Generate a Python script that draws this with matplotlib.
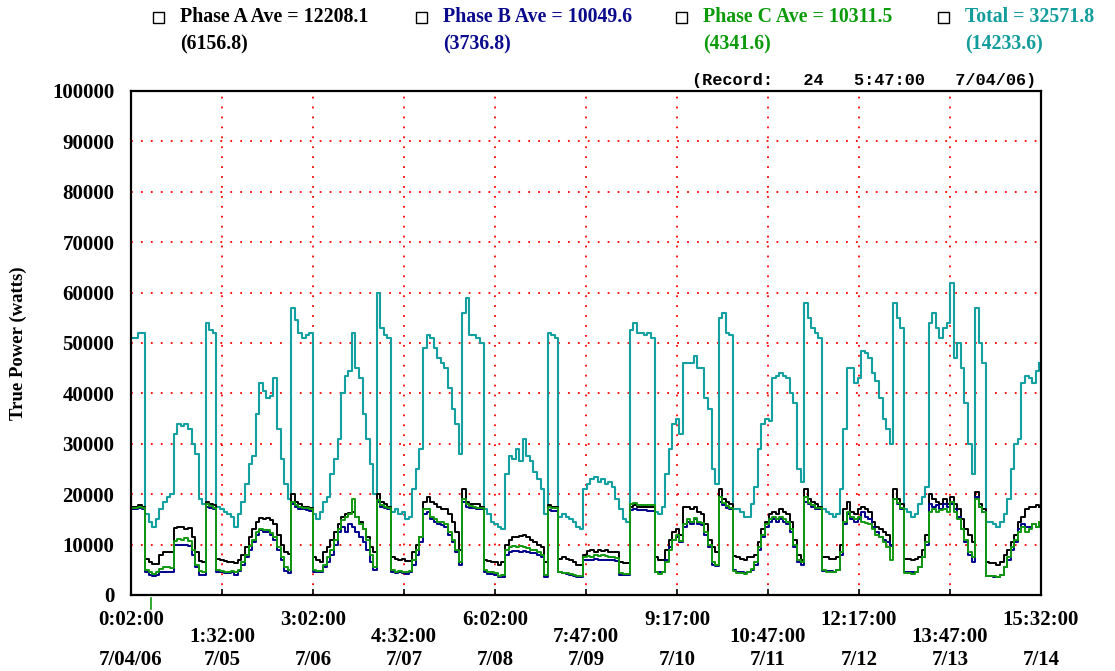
import numpy as np
import matplotlib
matplotlib.use("Agg")
import matplotlib.pyplot as plt
from matplotlib.patches import Rectangle
import matplotlib.transforms as mtransforms

# hourly readings (kW), starting 7/04/06 0:02
phase_a_kw = [
    17.5, 17.5, 17.8, 17.5, 7.2, 6.5, 6.2, 6.2, 8, 8.5,
    8.6, 8.6, 13.3, 13.5, 13.5, 13, 13.2, 11.5, 8.5, 6.8,
    6.5, 18.5, 18, 17.8, 7.2, 7, 6.8, 6.5, 6.5, 6.3,
    7, 8, 9.5, 11.5, 13, 14.5, 15.2, 15, 15.2, 14.8,
    14, 12, 10, 8.5, 8.2, 20, 18.5, 18, 17.5, 17.5, 17.3,
    7.5, 7, 6.5, 8.5, 9.5, 11, 12.5, 14, 15.5, 16,
    16.2, 16.5, 15.5, 14.5, 13, 11.5, 9.5, 8.5, 20, 18.5,
    18, 17.5, 7.5, 7.2, 7, 7.2, 6.8, 6.8, 8.5, 10,
    11.5, 18.5, 19.5, 18.5, 18, 17.5, 17, 17, 16, 14.5,
    12.5, 9, 21, 18.5, 18, 18, 18, 17.5, 7, 6.8,
    6.5, 6.5,
    6, 6.5, 10, 11, 11.5, 11.5, 11.8, 12, 11.5, 11,
    10.5, 10, 9.5, 6.5, 17.8, 17.5, 17.5, 7.2, 7.5, 7.2,
    7, 6.5, 6, 6, 8, 8.8, 9, 8.5, 9, 8.8,
    9, 8.5, 8.5, 8.5, 6.5, 6.3, 6.3, 17.5, 17.8, 17.5,
    17.5, 17.5, 17.5, 17.5, 7.5, 7, 7, 9, 11, 12.5, 13,
    12, 17.5, 17.5, 17, 17.5, 16.5, 16, 14, 11, 9.5,
    8.5, 21, 19, 18.5, 18, 7.8, 7.5, 7.2, 7, 7.5,
    7.5, 8, 10.5, 13, 14.5, 16, 16.5, 16, 17, 16.5,
    16, 14.5, 11, 8, 7, 21, 19, 18.5, 18, 17.5,
    7.5, 7.5, 7.2, 7.2, 7.5, 10, 17, 18.5, 16.5, 16, 17,
    17.5, 17, 16.5, 14.5, 13.5, 13, 12.5, 12, 10, 21,
    19, 18, 7.2, 7.2, 7, 7.2, 7.5, 9, 12, 20,
    19, 18.5, 18, 19, 18, 19.5, 18, 17, 15, 13,
    12, 10.5, 20.5, 18, 17, 6.5, 6.3, 6.3, 6, 6.5,
    8, 9, 10.5, 12, 14.5, 15.5, 17, 17.5, 17.5, 17.8, 17.5,
]
phase_b_kw = [
    17, 17, 17.2, 17, 4.5, 4, 3.7, 4, 4.5, 4.5,
    4.6, 4.5, 10, 10, 10, 10, 9.8, 8, 5.5, 4,
    4, 17.5, 17.2, 17, 4.5, 4.5, 4.3, 4.3, 4.5, 4,
    4.7, 6, 7.5, 9, 10.5, 12, 12.8, 12.5, 12.5, 12,
    11, 9, 7, 4.8, 4.3, 18, 17.5, 17, 17, 16.8, 16.7,
    4.5, 4.5, 4.5, 5.5, 6.5, 8, 10, 12.5, 13.5, 12.5,
    14, 13.5, 12.5, 11.5, 10.5, 9, 6.5, 5, 18.5, 17.5,
    17.3, 17, 4.5, 4.3, 4.5, 4.3, 4.2, 4.5, 6, 8,
    10.5, 16, 16.5, 15, 14.5, 14, 13.8, 13.5, 12, 10.5,
    8.5, 6, 18.5, 17.5, 17.3, 17.2, 17, 17, 4.5, 4.2,
    4.2, 4,
    3.5, 3.5, 8, 8.5, 8.8, 8.8, 8.5, 8.8, 8.5, 8.3,
    8.3, 8, 7.5, 3.5, 16.8, 16.7, 16.7, 4.5, 4.3, 4.2,
    4, 3.8, 3.5, 3.5, 7, 7, 7, 7.2, 7, 7,
    7, 7, 7, 6.8, 4, 4, 4, 16.8, 17, 16.8,
    16.8, 16.8, 16.7, 16.7, 4.5, 4.5, 4.5, 7, 9.5, 11, 11.5,
    10.5, 13.5, 14.5, 14, 15, 14, 13.8, 12, 9.5, 6,
    5.8, 18.5, 17.8, 17.2, 17, 5, 4.5, 4.5, 4.3, 4.5,
    5, 6, 9, 11.5, 13.5, 14.5, 15, 14.5, 15, 14.5,
    14, 12.5, 9.5, 6.5, 6, 18.5, 18, 17.5, 17, 17,
    4.8, 4.8, 4.8, 4.6, 5, 8, 14, 16, 15, 14.5, 15,
    16.5, 15.5, 15, 13.5, 12.5, 11.5, 11, 10.5, 9.8, 19,
    18, 17, 4.6, 4.6, 4.5, 4.6, 5.5, 7.5, 10, 18,
    17.5, 17.8, 17, 18, 17.5, 18, 17, 15.5, 13, 10.5,
    8, 6.5, 19.5, 17.5, 16.5, 3.8, 3.8, 3.5, 3.5, 4,
    5.5, 7, 9, 10.5, 13, 14, 13.5, 13.5, 14, 13.5, 14,
]
phase_c_kw = [
    17.3, 17.2, 17.5, 17.3, 5, 4.5, 4.2, 4.6, 5.2, 5.5,
    5.5, 5.3, 10.8, 11.2, 11, 11.3, 10.8, 9, 6, 4.8,
    4.6, 18, 17.6, 17.3, 5, 4.8, 4.6, 4.5, 4.7, 4.5,
    5, 6.5, 8, 9.8, 11, 12.5, 13, 12.8, 12.8, 12.3,
    11.5, 9.5, 7.5, 5.5, 5, 18.5, 17.8, 17.5, 17.3, 17.2, 17,
    5, 4.8, 4.8, 6, 7.5, 9, 11, 13, 14.8, 15.5,
    16, 19, 15.5, 14, 13, 11, 8, 5.5, 18.8, 17.8,
    17.5, 17.3, 5, 4.6, 4.8, 4.6, 4.5, 4.8, 7, 9,
    11.5, 17, 17, 15.5, 15, 14.5, 14.5, 14, 12.5, 11,
    9, 6.5, 19, 18, 17.6, 17.5, 17.3, 17.2, 5, 4.6,
    4.6, 4.4,
    3.8, 4, 9, 9.5, 9.8, 9.5, 9.8, 9.5, 9.3, 9,
    9, 8.5, 8, 4, 17.5, 17.3, 17.3, 4.5, 4.3, 4.3,
    4.2, 4, 3.8, 3.8, 7.5, 7.8, 7.5, 8, 7.8, 8,
    7.8, 7.5, 7.5, 7.3, 4.3, 4.2, 4.2, 18, 18.2, 17.8,
    17.8, 17.8, 17.8, 17.8, 4.5, 4.2, 4.5, 6.5, 9, 11, 12,
    10.8, 14, 15, 14.5, 15.3, 14.5, 14.3, 12.5, 10, 6.5,
    6, 19.5, 18.3, 17.6, 17.3, 4.8, 4.3, 4.3, 4.2, 4.5,
    5.2, 6.5, 9.5, 12, 14, 15, 15.5, 15, 15.5, 15,
    14.5, 13, 10, 7, 6.5, 19.5, 18.3, 17.8, 17.3, 17.2,
    5, 4.6, 4.5, 4.5, 5, 8.5, 14.5, 16.5, 15.5, 15, 15.5,
    14.5, 14.2, 14, 13, 12, 11.5, 10.5, 9.5, 7, 19,
    18.2, 17.3, 4.4, 4.3, 4.2, 4.5, 5.5, 7.5, 10.5, 16.5,
    17, 16.5, 16.8, 17, 16.5, 18.5, 16.5, 15, 13, 11,
    8.5, 7.5, 19, 17.5, 16.5, 3.8, 3.8, 3.7, 3.6, 4,
    5.5, 7.5, 9.5, 11, 12.5, 13.5, 12.5, 13, 14, 13.5, 14.5,
]
total_kw = [
    51, 51, 52, 52, 16, 14.5, 13.5, 15, 17, 18.5,
    19.5, 20, 32, 34, 33.5, 34, 33, 30, 28, 19,
    18, 54, 52.5, 52, 17.5, 17, 16.5, 16, 15.5, 13.5,
    16, 18.5, 22, 26, 27.5, 36, 42, 40.5, 39, 39.5,
    43, 33, 27, 22, 19, 57, 54.5, 52, 51, 51.5, 52,
    16, 15, 16.5, 18.5, 19.5, 24, 27, 31, 40, 43.5,
    44.5, 52, 45, 43, 36, 31, 26, 20, 60, 53,
    51.5, 51, 16.5, 17, 16, 16.5, 15, 15.5, 21, 25,
    29, 49, 51.5, 51, 49, 47, 46, 45, 41, 37,
    34, 28, 56, 59, 51.5, 51.5, 51, 50, 17, 16,
    14.5, 14,
    13.5, 13, 24, 27.5, 27, 29, 26.5, 31, 27.5, 26.5,
    24.5, 23, 21, 16, 52, 51.5, 51, 15.5, 16, 15.5,
    15, 14.5, 13.5, 13, 21, 22, 23, 23.5, 22.5, 23,
    22, 22.5, 21.5, 19, 17, 15, 14.5, 52.5, 54, 52,
    52, 51.5, 52, 51, 16.5, 16, 17.5, 24, 29, 34, 35,
    32, 46, 46, 46, 47.5, 45, 45, 39, 37, 25,
    22, 55, 56, 52, 51.5, 17, 17, 16.5, 15.5, 15.5,
    18, 21.5, 29, 34, 35, 34.5, 43, 43.5, 44, 43.5,
    43, 40, 38, 25, 22.5, 58, 55, 53, 52, 51,
    17, 16.5, 16, 15.5, 16, 21, 33, 45, 45, 42, 43,
    48.5, 48, 47, 44, 42.5, 39, 35, 33, 30, 58,
    55, 53, 17, 16.5, 15.5, 16, 18, 19.5, 21.5, 54,
    56, 53, 51, 53, 54, 62, 47, 50, 45, 38,
    30, 24, 57, 50, 46, 14.5, 14.5, 14, 13.5, 14.5,
    16, 19, 25, 30, 31, 42, 43.5, 43, 42, 44.5, 46,
]

tick_times = ["0:02:00", "1:32:00", "3:02:00", "4:32:00", "6:02:00", "7:47:00",
              "9:17:00", "10:47:00", "12:17:00", "13:47:00", "15:32:00"]
tick_dates = ["7/04/06", "7/05", "7/06", "7/07", "7/08", "7/09",
              "7/10", "7/11", "7/12", "7/13", "7/14"]
legend_names = ["Phase A Ave = 12208.1", "Phase B Ave = 10049.6",
                "Phase C Ave = 10311.5", "Total = 32571.8"]
legend_sub = ["(6156.8)", "(3736.8)", "(4341.6)", "(14233.6)"]
span_hours = 255.5
record_hour = 5.75

col_a, col_b, col_c, col_t = "#000000", "#00008c", "#119911", "#13a0a0"
txt_cols = ["#000000", "#0a0a8c", "#0a9a0a", "#129c9c"]
serif = "Liberation Serif"

hours = np.arange(len(total_kw))
fig = plt.figure(figsize=(11.15, 6.71), dpi=100)
W, H = 1115, 671
ax = fig.add_axes([131 / W, 1 - 595 / H, 910 / W, 504 / H])

for vals, c, lw in [(total_kw, col_t, 1.5), (phase_a_kw, col_a, 1.4),
                    (phase_b_kw, col_b, 1.4), (phase_c_kw, col_c, 1.4)]:
    ax.plot(hours, np.array(vals) * 1000, color=c, lw=lw, drawstyle="steps-post")

ax.set_xlim(0, span_hours)
ax.set_ylim(0, 100000)
xt = np.linspace(0, span_hours, len(tick_times))
ax.set_xticks(xt)
ax.set_xticklabels([])
ax.set_yticks(np.arange(0, 100001, 10000))
ax.set_yticklabels([f"{v:d}" for v in range(0, 100001, 10000)],
                   fontfamily=serif, fontweight="bold", fontsize=15)
ax.tick_params(axis="y", length=0, pad=12)
ax.tick_params(axis="x", direction="in", length=4, width=1.2)

grid_kw = dict(color="#ff0000", lw=1.3, ls=(0, (1, 4.5)), zorder=0)
for v in range(10000, 100000, 10000):
    ax.axhline(v, **grid_kw)
for x in xt[1:-1]:
    ax.axvline(x, **grid_kw)

for s in ax.spines.values():
    s.set_linewidth(1.6)
    s.set_color("#000000")

trans = mtransforms.blended_transform_factory(ax.transData, ax.transAxes)
for i, (x, t, d) in enumerate(zip(xt, tick_times, tick_dates)):
    ty = -25 / 504 if i % 2 == 0 else -42 / 504
    ax.text(x, ty, t, transform=trans, ha="center", va="center",
            fontfamily=serif, fontweight="bold", fontsize=15)
    ax.text(x, -65 / 504, d, transform=trans, ha="center", va="center",
            fontfamily=serif, fontweight="bold", fontsize=15)
ax.plot([record_hour, record_hour], [-0.005, -0.027], color=col_c, lw=1.2,
        transform=trans, clip_on=False)

ax.set_ylabel("True Power (watts)", fontfamily=serif, fontweight="bold",
              fontsize=13.5)
ax.yaxis.set_label_coords(-104 / 910, 0.5)

# legend boxes along the top
box_x = [153, 416, 676, 938]
for bx, name, sub, c in zip(box_x, legend_names, legend_sub, txt_cols):
    fig.patches.append(Rectangle((bx / W, 1 - 23 / H), 11 / W, 11 / H,
                                 transform=fig.transFigure, fill=False,
                                 edgecolor="#000000", lw=1.0))
    fig.text((bx + 27) / W, 1 - 17 / H, name, color=c, ha="left", va="center",
             fontfamily=serif, fontweight="bold", fontsize=14.3)
    fig.text((bx + 27) / W, 1 - 44 / H, sub, color=c, ha="left", va="center",
             fontfamily=serif, fontweight="bold", fontsize=14.3)

fig.text(1036 / W, 1 - 80 / H, "(Record:   24   5:47:00   7/04/06)",
         ha="right", va="center", fontfamily="Liberation Mono",
         fontweight="bold", fontsize=12.2)

fig.savefig("out.png", dpi=100, facecolor="white")
